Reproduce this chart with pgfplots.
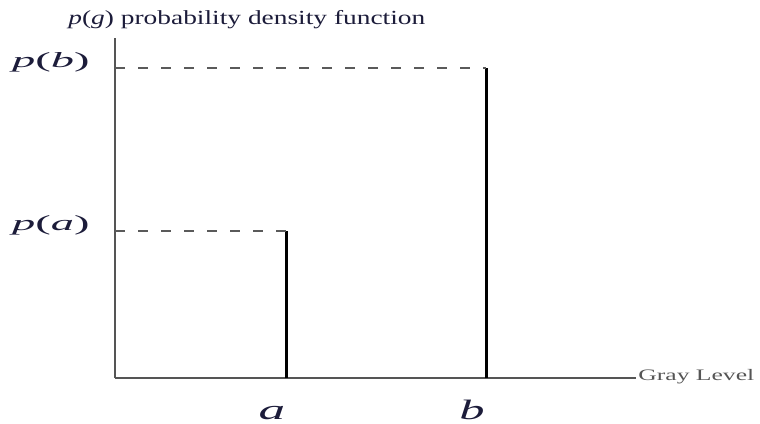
\documentclass[border=0pt]{standalone}
\usepackage{fontspec}
\setmainfont{Liberation Serif}
\usepackage{graphicx}
\usepackage{pgfplots}
\pgfplotsset{compat=1.18}
\definecolor{axisgray}{HTML}{555555}
\definecolor{dashgray}{HTML}{5A5A5A}
\definecolor{inkblue}{HTML}{1C1C3A}
\newcommand{\wide}[2]{\scalebox{#1}[1]{#2}}
\begin{document}
\begin{tikzpicture}
\begin{axis}[
  x=0.5pt, y=0.5pt,
  xmin=0, xmax=521, ymin=0, ymax=340,
  axis x line=bottom, axis y line=left,
  axis line style={-, draw=axisgray, line width=1.1pt},
  major tick length=0pt,
  xtick={171,371},
  xticklabels={\wide{1.9}{\fontsize{14}{16}\selectfont\textit{a}},
               \wide{1.8}{\fontsize{14}{16}\selectfont\textit{b}}},
  xticklabel style={anchor=base, inner sep=0pt, yshift=-20.5pt, xshift=-7pt, text=inkblue},
  ytick={147,310},
  yticklabels={\wide{2.15}{\fontsize{10.8}{12}\selectfont\textit{p}(\textit{a})},
               \wide{2.15}{\fontsize{10.8}{12}\selectfont\textit{p}(\textit{b})}},
  yticklabel style={anchor=base east, inner sep=0pt, xshift=-12.5pt, text=inkblue},
  clip=false,
]
% spikes at gray levels a and b
\addplot[black, line width=1.5pt] coordinates {(171,0) (171,147)};
\addplot[black, line width=1.5pt] coordinates {(371,0) (371,310)};
% guides to the y axis
\addplot[dashgray, line width=0.8pt, dash pattern=on 5pt off 6.5pt] coordinates {(0,147) (171,147)};
\addplot[dashgray, line width=0.8pt, dash pattern=on 5pt off 6.5pt] coordinates {(0,310) (371,310)};

\node[anchor=base west, inner sep=0pt, text=inkblue] at (axis cs:-47,353)
  {\wide{1.37}{\fontsize{10}{12}\selectfont\textit{p}(\textit{g}) probability density function}};
\node[anchor=base west, inner sep=0pt, text=axisgray] at (axis cs:523,-3)
  {\wide{1.6}{\fontsize{8}{10}\selectfont Gray Level}};

\coordinate (bl) at (axis cs:-115,-45);
\coordinate (tr) at (axis cs:645,378);
\end{axis}
\pgfresetboundingbox
\path[use as bounding box] (bl) rectangle (tr);
\end{tikzpicture}
\end{document}
